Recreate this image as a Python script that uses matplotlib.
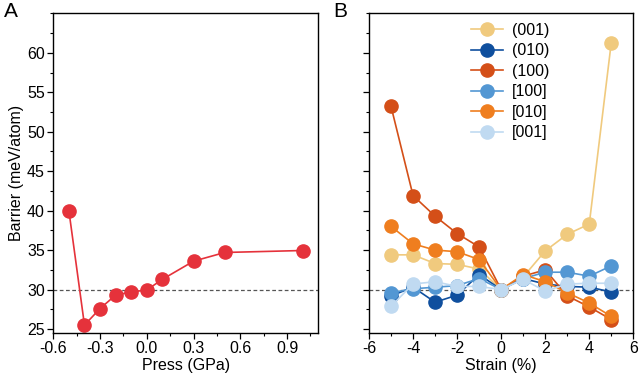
import matplotlib
matplotlib.use('Agg')
import matplotlib.pyplot as plt
from matplotlib.ticker import MultipleLocator

plt.rcParams['font.family'] = ['Liberation Sans', 'DejaVu Sans']
plt.rcParams['font.size'] = 11.5
plt.rcParams['axes.unicode_minus'] = False

# panel A: barrier vs pressure
press = [-0.5, -0.4, -0.3, -0.2, -0.1, 0.0, 0.1, 0.3, 0.5, 1.0]
barrier_press = [40.0, 25.5, 27.6, 29.3, 29.7, 29.95, 31.3, 33.6, 34.7, 34.95]

# panel B: barrier vs strain
strain = [-5, -4, -3, -2, -1, 0, 1, 2, 3, 4, 5]
b_001p = [34.4, 34.4, 33.3, 33.2, 32.6, 30.0, 31.6, 34.9, 37.0, 38.3, 61.3]
b_010p = [29.2, 30.3, 28.4, 29.3, 31.9, 30.0, 31.4, 30.7, 30.4, 30.3, 29.7]
b_100p = [53.2, 41.9, 39.3, 37.1, 35.4, 30.0, 31.7, 32.5, 29.2, 27.8, 26.2]
b_100b = [29.6, 30.1, 30.3, 30.5, 31.4, 30.0, 31.4, 32.2, 32.2, 31.7, 33.0]
b_010b = [38.0, 35.8, 35.0, 34.8, 33.8, 30.0, 31.9, 31.0, 29.6, 28.3, 26.6]
b_001b = [27.9, 30.7, 31.0, 30.4, 30.4, 30.0, 31.3, 29.8, 30.7, 30.8, 30.8]

labels_b = ['(001)', '(010)', '(100)', '[100]', '[010]', '[001]']
series_b = [b_001p, b_010p, b_100p, b_100b, b_010b, b_001b]
colors_b = ['#F0CA7E', '#0F4F9E', '#D44F18', '#5397D3', '#EF7E1F', '#C0DAF1']

fig = plt.figure(figsize=(6.39, 3.79), dpi=100)
ax1 = fig.add_axes([0.0834, 0.1214, 0.4147, 0.8435])
ax2 = fig.add_axes([0.5775, 0.1214, 0.4136, 0.8435])

ax1.plot(press, barrier_press, '-o', color='#E5323B', lw=1.2, ms=9.5)
ax1.axhline(30, color='#555555', ls='--', lw=0.9, dashes=(3, 2), zorder=0)
ax1.set_xlim(-0.6, 1.1)
ax1.set_xticks([-0.6, -0.3, 0.0, 0.3, 0.6, 0.9])
ax1.xaxis.set_minor_locator(MultipleLocator(0.15))
ax1.set_xlabel('Press (GPa)', labelpad=1)
ax1.set_ylabel('Barrier (meV/atom)', labelpad=2)

for lab, vals, c in zip(labels_b, series_b, colors_b):
    ax2.plot(strain, vals, '-o', color=c, lw=1.2, ms=9.5, label=lab)
ax2.axhline(30, color='#555555', ls='--', lw=0.9, dashes=(3, 2), zorder=0)
ax2.set_xlim(-6, 6)
ax2.set_xticks([-6, -4, -2, 0, 2, 4, 6])
ax2.xaxis.set_minor_locator(MultipleLocator(1))
ax2.set_xlabel('Strain (%)', labelpad=1)
ax2.tick_params(axis='y', labelleft=False)

for ax in (ax1, ax2):
    ax.set_ylim(24.5, 65)
    ax.set_yticks([25, 30, 35, 40, 45, 50, 55, 60])
    ax.yaxis.set_minor_locator(MultipleLocator(2.5))
    ax.tick_params(which='major', direction='out', length=4, width=0.9, labelsize=11.5, pad=2)
    ax.tick_params(which='minor', direction='out', length=2.5, width=0.8)
    for sp in ax.spines.values():
        sp.set_linewidth(1.0)

fig.legend(loc='upper left', bbox_to_anchor=(471 / 639, 1 - 23 / 379), frameon=False,
           handlelength=2.0, handletextpad=0.55, labelspacing=0.34,
           borderpad=0, borderaxespad=0, fontsize=11.5)

fig.text(4 / 639, 1 - 2 / 379, 'A', fontsize=15, va='top', ha='left')
fig.text(333 / 639, 1 - 2 / 379, 'B', fontsize=15, va='top', ha='left')

fig.savefig('out.png', dpi=100)
